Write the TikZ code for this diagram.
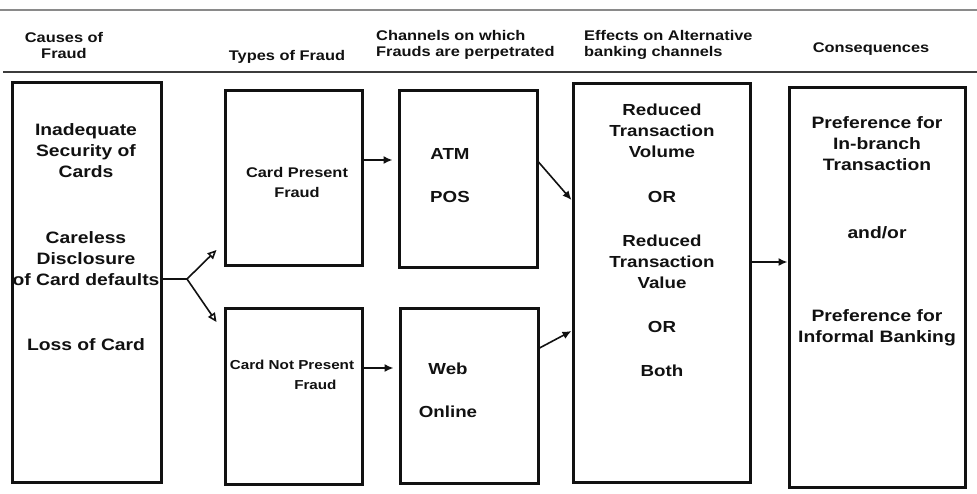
\documentclass[tikz,border=0pt]{standalone}
\usepackage{fontspec}
\setmainfont{Liberation Sans}[FakeStretch=1.17]
\usepackage{tikz}
\usetikzlibrary{arrows.meta,shadows}
\definecolor{FRInk}{HTML}{111111}
\definecolor{FRRule}{HTML}{8A8A8A}
\definecolor{FRRuleDark}{HTML}{3C3C3C}
\tikzset{
  frame/.style={draw=FRInk,line width=3pt,fill=white,
                drop shadow={shadow xshift=1.8pt,shadow yshift=-2.2pt,fill=FRInk,opacity=1}},
  boxtext/.style={text=FRInk,font=\fontsize{16.5}{21}\selectfont\bfseries,align=center,inner sep=0pt},
  smalltext/.style={boxtext,font=\fontsize{14}{20}\selectfont\bfseries},
  head/.style={text=FRInk,font=\fontsize{14}{16}\selectfont\bfseries,align=center,inner sep=0pt},
  flow/.style={-{Latex[length=9pt,width=8pt]},FRInk,line width=1.6pt},
  split/.style={-{Triangle[open,length=9pt,width=8pt]},FRInk,line width=1.6pt},
}
\begin{document}
\begin{tikzpicture}[x=1pt,y=-1pt]
  \useasboundingbox (0,0) rectangle (977,493);
  % rules
  \draw[FRRule,line width=2pt] (0,10) -- (977,10);
  \draw[FRRuleDark,line width=1.4pt] (3,72) -- (977,72);

  % column heads
  \node[head] (hcause) at (64,45) {Causes of\\Fraud};
  \node[head] (htype) at (287,57) {Types of Fraud};
  \node[head,anchor=west,align=left] (hchan) at (376,45) {Channels on which\\Frauds are perpetrated};
  \node[head,anchor=west,align=left] (heff) at (584,45) {Effects on Alternative\\banking channels};
  \node[head] (hcons) at (871,49) {Consequences};

  % boxes
  \node[frame,minimum width=149pt,minimum height=400pt] (causes) at (86.5,282) {};
  \node[frame,minimum width=137pt,minimum height=175pt] (present) at (293.5,177.5) {};
  \node[frame,minimum width=137pt,minimum height=176pt] (notpresent) at (293.5,396) {};
  \node[frame,minimum width=138pt,minimum height=177pt] (atmpos) at (468,178.5) {};
  \node[frame,minimum width=138pt,minimum height=175pt] (webonline) at (469,395.5) {};
  \node[frame,minimum width=177pt,minimum height=399pt] (effects) at (661.5,282.5) {};
  \node[frame,minimum width=176pt,minimum height=400pt] (conseq) at (877,287) {};

  % causes
  \node[boxtext] (insec) at (86,151) {Inadequate\\Security of\\Cards};
  \node[boxtext] (careless) at (86,259) {Careless\\Disclosure\\of Card defaults};
  \node[boxtext] (loss) at (86,345) {Loss of Card};

  % types
  \node[smalltext] (cpf) at (297,182) {Card Present\\Fraud};
  \node[smalltext,font=\fontsize{13}{20}\selectfont\bfseries] (cnpf) at (292,375)
    {Card Not Present\\\hspace*{3.6em}Fraud};

  % channels
  \node[boxtext,font=\fontsize{16}{20}\selectfont\bfseries] (atm) at (450,154) {ATM};
  \node[boxtext,font=\fontsize{16}{20}\selectfont\bfseries] (pos) at (450,197) {POS};
  \node[boxtext,font=\fontsize{16}{20}\selectfont\bfseries] (web) at (448,369) {Web};
  \node[boxtext,font=\fontsize{16}{20}\selectfont\bfseries] (online) at (448,412) {Online};

  % effects
  \node[boxtext,font=\fontsize{16}{21}\selectfont\bfseries] (volume) at (662,131) {Reduced\\Transaction\\Volume};
  \node[boxtext,font=\fontsize{16}{21}\selectfont\bfseries] (orone) at (662,197) {OR};
  \node[boxtext,font=\fontsize{16}{21}\selectfont\bfseries] (value) at (662,262) {Reduced\\Transaction\\Value};
  \node[boxtext,font=\fontsize{16}{21}\selectfont\bfseries] (ortwo) at (662,327) {OR};
  \node[boxtext,font=\fontsize{16}{21}\selectfont\bfseries] (both) at (662,371) {Both};

  % consequences
  \node[boxtext] (inbranch) at (877,144) {Preference for\\In-branch\\Transaction};
  \node[boxtext] (andor) at (877,233) {and/or};
  \node[boxtext] (informal) at (877,328) {Preference for\\Informal Banking};

  % connectors
  \coordinate (fork) at (187,279);
  \draw[FRInk,line width=1.6pt] (causes.east |- fork) -- (fork);
  \draw[split] (fork) -- ([xshift=-7pt]present.west |- 0,250);
  \draw[split] (fork) -- ([xshift=-7pt]notpresent.west |- 0,322);
  \draw[flow] (present.east |- 0,160) -- ([xshift=-5pt]atmpos.west |- 0,160);
  \draw[flow] (notpresent.east |- 0,368) -- ([xshift=-5pt]webonline.west |- 0,368);
  \draw[flow] (atmpos.east |- 0,162) -- (effects.west |- 0,200);
  \draw[flow] (webonline.east |- 0,348) -- (effects.west |- 0,331);
  \draw[flow] (effects.east |- 0,262) -- (conseq.west |- 0,262);
\end{tikzpicture}
\end{document}
